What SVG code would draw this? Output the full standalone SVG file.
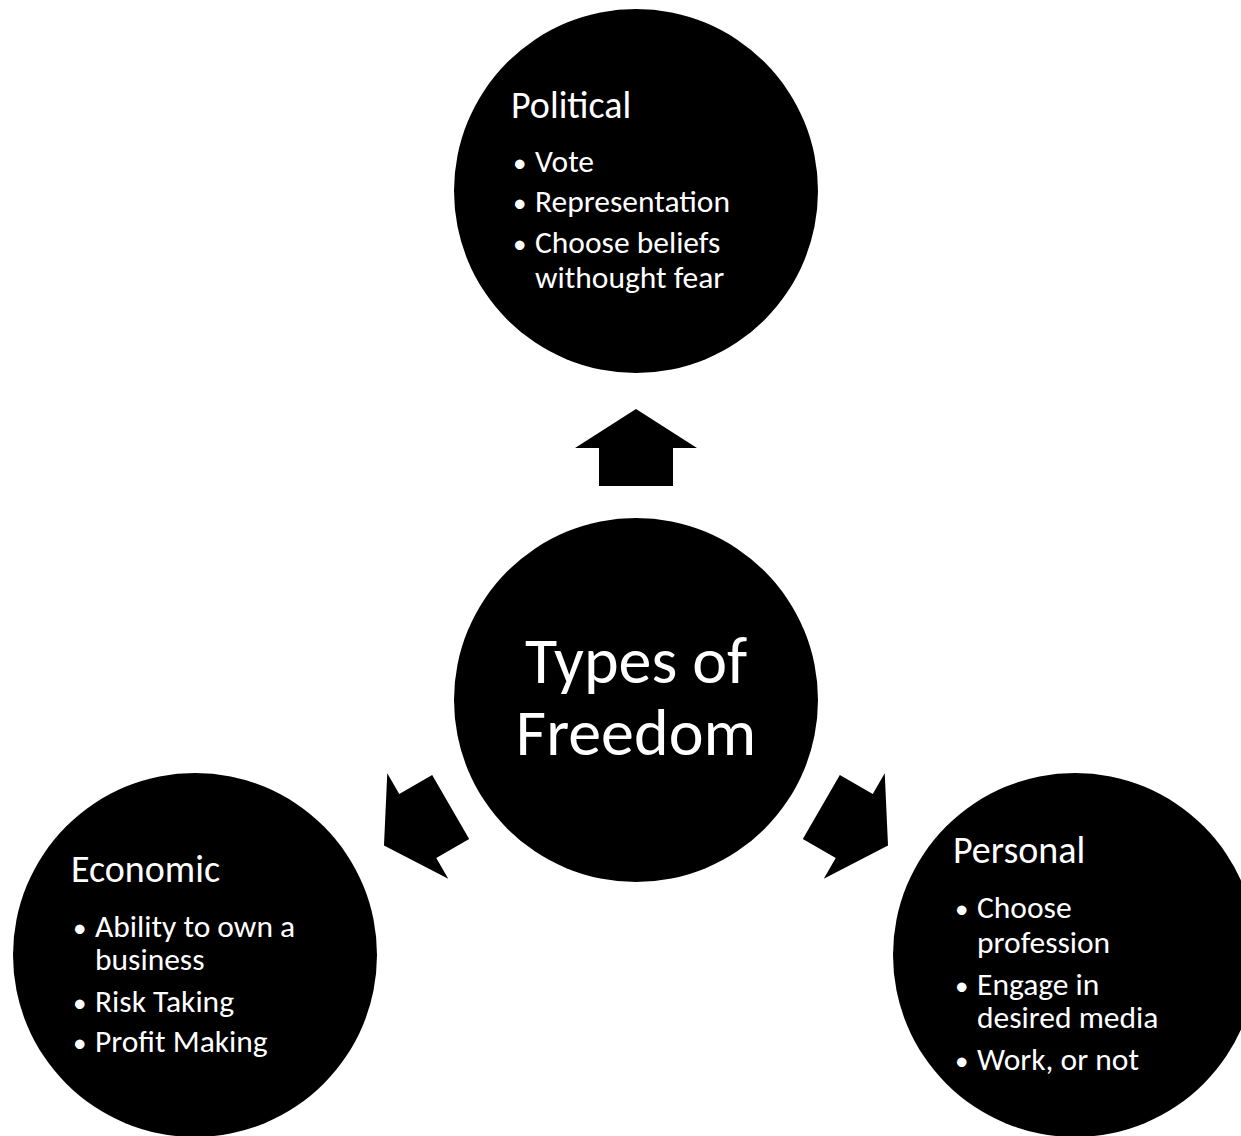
<svg xmlns="http://www.w3.org/2000/svg" xmlns:xlink="http://www.w3.org/1999/xlink" width="1241" height="1136" viewBox="0 0 1241 1136">
  <style>
    .node { fill: #000000; }
    .t { fill: #ffffff; font-family: Carlito, Lato, "Liberation Sans", sans-serif; }
    .main { font-size: 66px; text-anchor: middle; }
    .head { font-size: 38px; }
    .item { font-size: 31.5px; }
    .bul { font-size: 27px; }
    .arrow { fill: #000000; }
  </style>
  <defs>
    <polygon id="arrowShape" points="0,-291 61,-252 37,-252 37,-214 -37,-214 -37,-252 -61,-252"/>
  </defs>
  <rect x="0" y="0" width="1241" height="1136" fill="#ffffff"/>

  <g id="connectors" class="arrow" transform="translate(636,700)">
    <use xlink:href="#arrowShape" href="#arrowShape"/>
    <use xlink:href="#arrowShape" href="#arrowShape" transform="rotate(-120)"/>
    <use xlink:href="#arrowShape" href="#arrowShape" transform="rotate(120)"/>
  </g>

  <g id="center">
    <circle class="node" cx="636" cy="700" r="182"/>
    <text class="t main" x="636" y="683">Types of</text>
    <text class="t main" x="636" y="755">Freedom</text>
  </g>

  <g id="political">
    <circle class="node" cx="636" cy="191" r="182"/>
    <text class="t head" x="511" y="118">Political</text>
    <text class="t bul" x="513" y="172">•</text>
    <text class="t item" x="535" y="172">Vote</text>
    <text class="t bul" x="513" y="212">•</text>
    <text class="t item" x="535" y="212">Representation</text>
    <text class="t bul" x="513" y="253">•</text>
    <text class="t item" x="535" y="253">Choose beliefs</text>
    <text class="t item" x="535" y="288">withought fear</text>
  </g>

  <g id="economic">
    <circle class="node" cx="195" cy="955" r="182"/>
    <text class="t head" x="71" y="882">Economic</text>
    <text class="t bul" x="73" y="937">•</text>
    <text class="t item" x="95" y="937">Ability to own a</text>
    <text class="t item" x="95" y="970">business</text>
    <text class="t bul" x="73" y="1012">•</text>
    <text class="t item" x="95" y="1012">Risk Taking</text>
    <text class="t bul" x="73" y="1052">•</text>
    <text class="t item" x="95" y="1052">Profit Making</text>
  </g>

  <g id="personal">
    <circle class="node" cx="1075" cy="955" r="182"/>
    <text class="t head" x="953" y="863">Personal</text>
    <text class="t bul" x="955" y="918">•</text>
    <text class="t item" x="977" y="918">Choose</text>
    <text class="t item" x="977" y="953">profession</text>
    <text class="t bul" x="955" y="995">•</text>
    <text class="t item" x="977" y="995">Engage in</text>
    <text class="t item" x="977" y="1028">desired media</text>
    <text class="t bul" x="955" y="1070">•</text>
    <text class="t item" x="977" y="1070">Work, or not</text>
  </g>
</svg>
